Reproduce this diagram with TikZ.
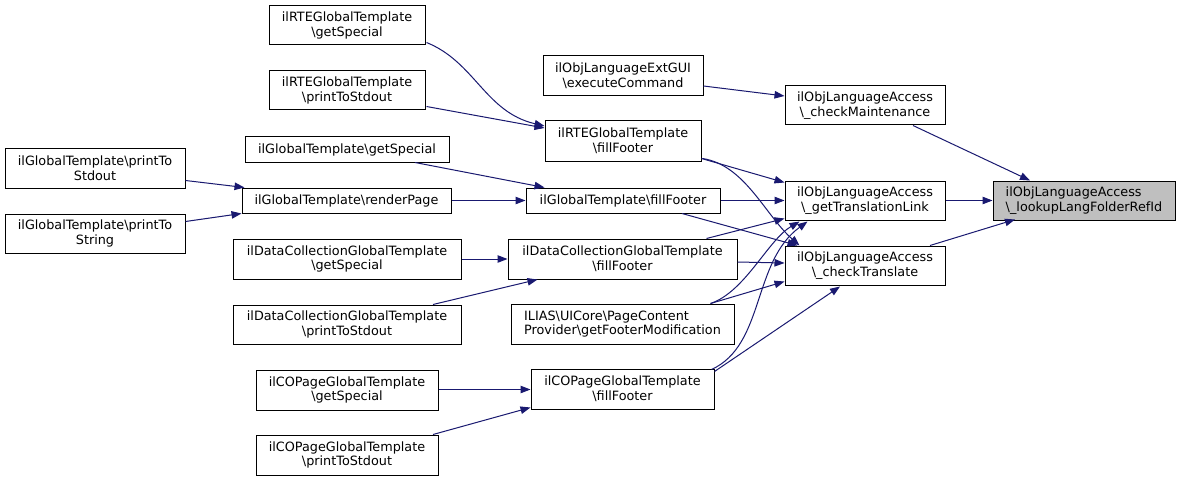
\documentclass[tikz,border=0pt]{standalone}
\usepackage{fontspec}
\setmainfont{DejaVu Sans}
\usetikzlibrary{arrows.meta,calc}
\definecolor{edgecol}{HTML}{191970}
\definecolor{hlfill}{HTML}{BFBFBF}
\newcommand\bs{\textbackslash}
\begin{document}
\begin{tikzpicture}[x=0.75pt,y=-0.75pt,
  box/.style={draw=black,line width=0.75pt,fill=white,inner sep=0pt,align=center,
    font=\fontsize{9.6}{11}\selectfont},
  edge/.style={draw=edgecol,line width=0.75pt,-{Triangle[length=7.5pt,width=5.6pt]}}]
\useasboundingbox[fill=white] (0,0) rectangle (1180,481);
% nodes
\newcommand\nb[6][]{\node[box,#1,minimum width={(#4-#2)*0.75pt},minimum height={(#5-#3)*0.75pt}] (#6) at ({(#2+#4)/2},{(#3+#5)/2})}
\nb{269}{6}{425}{45}{RTEgs} {ilRTEGlobalTemplate\\\bs getSpecial};
\nb{269}{71}{425}{110}{RTEpts} {ilRTEGlobalTemplate\\\bs printToStdout};
\nb{245}{137}{449}{162}{Ggs} {ilGlobalTemplate\bs getSpecial};
\nb{5}{149}{185}{188}{GptS} {ilGlobalTemplate\bs printTo\\Stdout};
\nb{5}{214}{185}{253}{GptStr} {ilGlobalTemplate\bs printTo\\String};
\nb{242}{188}{451}{213}{GrP} {ilGlobalTemplate\bs renderPage};
\nb{233}{239}{461}{279}{DCgs} {ilDataCollectionGlobalTemplate\\\bs getSpecial};
\nb{233}{305}{461}{344}{DCpts} {ilDataCollectionGlobalTemplate\\\bs printToStdout};
\nb{256}{370}{438}{410}{COgs} {ilCOPageGlobalTemplate\\\bs getSpecial};
\nb{256}{435}{438}{475}{COpts} {ilCOPageGlobalTemplate\\\bs printToStdout};
\nb{543}{56}{703}{96}{ExtGUI} {ilObjLanguageExtGUI\\\bs executeCommand};
\nb{545}{121}{701}{161}{RTEff} {ilRTEGlobalTemplate\\\bs fillFooter};
\nb{526}{188}{720}{213}{Gff} {ilGlobalTemplate\bs fillFooter};
\nb{508}{239}{737}{279}{DCff} {ilDataCollectionGlobalTemplate\\\bs fillFooter};
\nb[align=left]{511}{304}{734}{344}{PCP} {ILIAS\bs UICore\bs PageContent\\Provider\bs getFooterModification};
\nb{531}{369}{714}{409}{COff} {ilCOPageGlobalTemplate\\\bs fillFooter};
\nb{785}{86}{945}{125}{cM} {ilObjLanguageAccess\\\bs\_checkMaintenance};
\nb{785}{181}{945}{220}{gTL} {ilObjLanguageAccess\\\bs\_getTranslationLink};
\nb{785}{246}{945}{285}{cT} {ilObjLanguageAccess\\\bs\_checkTranslate};
\nb[align=left,fill=hlfill]{993}{181}{1175}{220}{lookup} {ilObjLanguageAccess\\\bs\_lookupLangFolderRefId};
% edges to lookup
\draw[edge] ($(cM.south)+(48,0)$) -- ($(lookup.north)+(-54,0)$);
\draw[edge] (gTL.east) -- (lookup.west);
\draw[edge] ($(cT.north)+(65,0)$) -- ($(lookup.south)+(-69,-1)$);
% edges to cM
\draw[edge] ($(ExtGUI.east)+(0,10)$) -- ($(cM.west)+(0,-9.5)$);
% edges to gTL / cT
\draw[edge] ($(RTEff.south east)+(0,-3)$) -- ($(gTL.north west)+(0,2)$);
\draw[edge] ($(RTEff.south east)+(1,-3)$) .. controls (745,165) and (765,215) .. ($(cT.north west)+(15,0)$);
\draw[edge] (Gff.east) -- (gTL.west);
\draw[edge] ($(Gff.south)+(59,0)$) -- ($(cT.north west)+(13,0)$);
\draw[edge] ($(DCff.north)+(84,0)$) -- ($(gTL.south west)+(0,-2)$);
\draw[edge] ($(DCff.east)+(0,3)$) -- ($(cT.west)+(0,-2.5)$);
\draw[edge] ($(PCP.north)+(88,0)$) .. controls (745,292) and (768,240) .. ($(gTL.south west)+(15,1)$);
\draw[edge] ($(PCP.north)+(88,0)$) -- ($(cT.south west)+(0,-4)$);
\draw[edge] ($(COff.north east)+(-3,1)$) .. controls (765,345) and (752,262) .. ($(gTL.south west)+(23,1)$);
\draw[edge] ($(COff.north east)+(0,3)$) -- ($(cT.south)+(-25,1)$);
% left edges
\draw[edge] ($(RTEgs.south east)+(1,-3)$) .. controls (475,62) and (485,112) .. ($(RTEff.west)+(0,-15)$);
\draw[edge] ($(RTEpts.south east)+(1,-4)$) -- ($(RTEff.west)+(0,-13)$);
\draw[edge] ($(Ggs.south)+(68,0)$) -- ($(Gff.north west)+(19,0)$);
\draw[edge] (GrP.east) -- (Gff.west);
\draw[edge] ($(GptS.east)+(0,12)$) -- ($(GrP.north west)+(3,0)$);
\draw[edge] ($(GptStr.north east)+(0,8)$) -- (GrP.south west);
\draw[edge] (DCgs.east) -- (DCff.west);
\draw[edge] ($(DCpts.north)+(86,0)$) -- ($(DCff.south west)+(30,0)$);
\draw[edge] ($(COgs.east)+(0,-0.5)$) -- ($(COff.west)+(0,0.5)$);
\draw[edge] ($(COpts.north)+(86,0)$) -- ($(COff.south west)+(0,-2)$);
\end{tikzpicture}
\end{document}
